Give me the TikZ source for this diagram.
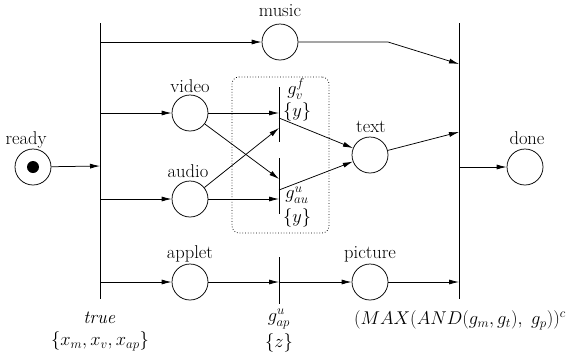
\RequirePackage{fix-cm}
\documentclass[tikz,border=0pt]{standalone}
\usetikzlibrary{arrows.meta}
\begin{document}
\begin{tikzpicture}[x=1pt,y=-1pt,line width=0.75pt,
  place/.style={draw,circle,minimum size=36pt,inner sep=0pt},
  lbl/.style={font=\fontsize{18.5}{22}\selectfont,inner sep=0pt},
  arr/.style={-{Latex[length=10pt,width=5pt]}},
  bar/.style={line width=0.9pt}]
\useasboundingbox (0,0) rectangle (573,360);
% places
\node[place] (ready) at (33,167) {};
\fill (ready.center) circle (6pt);
\node[place] (music) at (280,42) {};
\node[place] (video) at (190,113) {};
\node[place] (audio) at (190,199) {};
\node[place] (applet) at (190,282) {};
\node[place] (text) at (370,155) {};
\node[place] (picture) at (370,282) {};
\node[place] (done) at (525,167) {};
% labels of places
\node[lbl] (lready) at (26,140) {ready};
\node[lbl] (lmusic) at (280,11) {music};
\node[lbl] (lvideo) at (190,86) {video};
\node[lbl] (laudio) at (188,171) {audio};
\node[lbl] (lapplet) at (190,254) {applet};
\node[lbl] (ltext) at (371,127) {text};
\node[lbl] (lpicture) at (370,254) {picture};
\node[lbl] (ldone) at (527,138) {done};
% transitions
\coordinate (Lt) at (100,23); \coordinate (Lb) at (100,299);
\coordinate (Rt) at (459,23); \coordinate (Rb) at (459,299);
\draw[bar] (Lt) -- (Lb);
\draw[bar] (Rt) -- (Rb);
\coordinate (Vt) at (279,87); \coordinate (Vb) at (279,142);
\coordinate (Ut) at (279,158); \coordinate (Ub) at (279,214);
\coordinate (At) at (279,257); \coordinate (Ab) at (279,304);
\draw[bar] (Vt) -- (Vb);
\draw[bar] (Ut) -- (Ub);
\draw[bar] (At) -- (Ab);
% dotted box
\node[draw,dotted,rounded corners=7pt,minimum width=97pt,minimum height=156pt,inner sep=0pt] (box) at (280.5,155) {};
% anchor points on bars
\coordinate (L0) at (100,166);
\coordinate (L1) at (100,42);
\coordinate (L2) at (100,113);
\coordinate (L3) at (100,199);
\coordinate (L4) at (100,282);
\coordinate (V1) at (279,113);
\coordinate (V2) at (279,128);
\coordinate (V3) at (279,118);
\coordinate (U1) at (279,179);
\coordinate (U2) at (279,199);
\coordinate (U3) at (279,190);
\coordinate (A1) at (279,282);
\coordinate (R1) at (459,64);
\coordinate (R2) at (459,132);
\coordinate (R3) at (459,282);
\coordinate (R0) at (459,167);
\coordinate (bend) at (388,42);
% arcs
\draw[arr] (ready) -- (L0);
\draw[arr] (L1) -- (music);
\draw[arr] (L2) -- (video);
\draw[arr] (L3) -- (audio);
\draw[arr] (L4) -- (applet);
\draw[arr] (music) -- (bend) -- (R1);
\draw[arr] (video) -- (V1);
\draw[arr] (video) -- (U1);
\draw[arr] (audio) -- (V2);
\draw[arr] (audio) -- (U2);
\draw[arr] (V3) -- (text);
\draw[arr] (U3) -- (text);
\draw[arr] (text) -- (R2);
\draw[arr] (applet) -- (A1);
\draw[arr] (A1) -- (picture);
\draw[arr] (picture) -- (R3);
\draw[arr] (R0) -- (done);
% transition labels
\node[lbl] (gv) at (296,89) {$g^f_v$};
\node[lbl] (gvy) at (297,112) {$\{y\}$};
\node[lbl] (gu) at (297,195) {$g^u_{au}$};
\node[lbl] (guy) at (297,218) {$\{y\}$};
\node[lbl] (ltrue) at (100,318) {$\mathit{true}$};
\node[lbl] (lx) at (100,341) {$\{x_m,x_v,x_{ap}\}$};
\node[lbl] (lgap) at (279,319) {$g^u_{ap}$};
\node[lbl] (lz) at (279,343) {$\{z\}$};
\node[lbl] (lmax) at (460,320) {$(MAX(AND(g_m,g_t),\ g_p))^c$};
\end{tikzpicture}
\end{document}
